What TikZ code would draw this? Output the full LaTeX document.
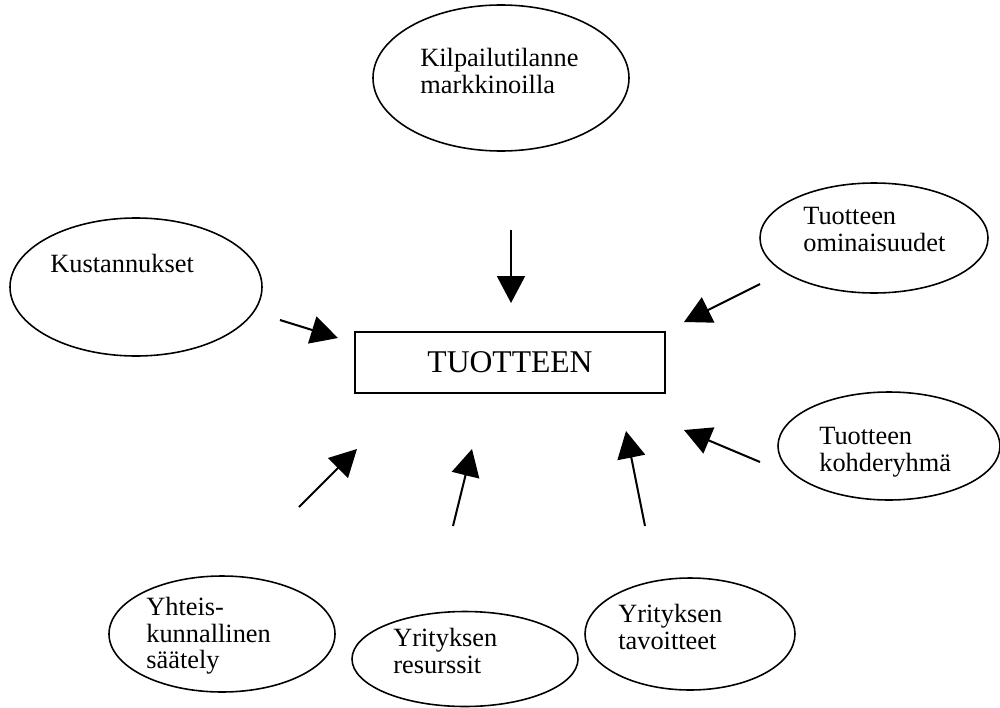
\documentclass[tikz,border=0pt]{standalone}
\usepackage{fontspec}
\setmainfont{Liberation Serif}
\usepackage{tikz}
\usetikzlibrary{arrows.meta,shapes.geometric}
\tikzset{
  oval/.style={draw=black,ellipse,line width=0.9pt,inner sep=0pt},
  lbl/.style={inner sep=0pt,anchor=north west,align=left,font=\fontsize{15}{15.1}\selectfont},
  mainbox/.style={draw=black,line width=0.7pt,minimum width=6.2cm,minimum height=1.22cm,font=\fontsize{18}{20}\selectfont},
  arr/.style={line width=1.15pt,-{Triangle[length=0.54cm,width=0.56cm]}},
}

\begin{document}
\begin{tikzpicture}
    \useasboundingbox (0,0) rectangle (20,-14.14);
    % ellipses
    \node[oval,minimum width=5.12cm,minimum height=2.92cm] (kilp) at (10.02,-1.56) {};
    \node[oval,minimum width=5.04cm,minimum height=2.76cm] (kust) at (2.72,-5.74) {};
    \node[oval,minimum width=4.56cm,minimum height=2.2cm] (omin) at (17.48,-4.76) {};
    \node[oval,minimum width=4.44cm,minimum height=2.16cm] (kohd) at (17.78,-8.92) {};
    \node[oval,minimum width=4.52cm,minimum height=2.32cm] (saat) at (4.44,-12.68) {};
    \node[oval,minimum width=4.52cm,minimum height=1.9cm] (resu) at (9.3,-13.18) {};
    \node[oval,minimum width=4.2cm,minimum height=2.24cm] (tavo) at (13.8,-12.68) {};
    % ellipse texts
    \node[lbl] (kilptxt) at (8.4,-0.96) {Kilpailutilanne\\markkinoilla};
    \node[lbl] (kusttxt) at (1.0,-5.08) {Kustannukset};
    \node[lbl] (omintxt) at (16.06,-4.14) {Tuotteen\\ominaisuudet};
    \node[lbl] (kohdtxt) at (16.38,-8.54) {Tuotteen\\kohderyhmä};
    \node[lbl] (saattxt) at (2.92,-11.94) {Yhteis-\\kunnallinen\\säätely};
    \node[lbl] (resutxt) at (7.86,-12.56) {Yrityksen\\resurssit};
    \node[lbl] (tavotxt) at (12.36,-12.08) {Yrityksen\\tavoitteet};
    % centre box
    \node[mainbox] (tuote) at (10.2,-7.25) {TUOTTEEN};
    % arrow ends
    \coordinate (kilpA) at (10.22,-4.6);   \coordinate (kilpB) at (10.22,-6.06);
    \coordinate (kustA) at (5.6,-6.4);     \coordinate (kustB) at (6.76,-6.76);
    \coordinate (ominA) at (15.2,-5.68);   \coordinate (ominB) at (13.68,-6.44);
    \coordinate (kohdA) at (15.2,-9.24);   \coordinate (kohdB) at (13.68,-8.6);
    \coordinate (saatA) at (5.98,-10.14);  \coordinate (saatB) at (7.14,-8.98);
    \coordinate (resuA) at (9.06,-10.52);  \coordinate (resuB) at (9.44,-8.98);
    \coordinate (tavoA) at (12.9,-10.52);  \coordinate (tavoB) at (12.52,-8.62);
    % arrows
    \foreach \n in {kilp,kust,omin,kohd,saat,resu,tavo}
        \draw[arr] (\n A) -- (\n B);
\end{tikzpicture}
\end{document}
